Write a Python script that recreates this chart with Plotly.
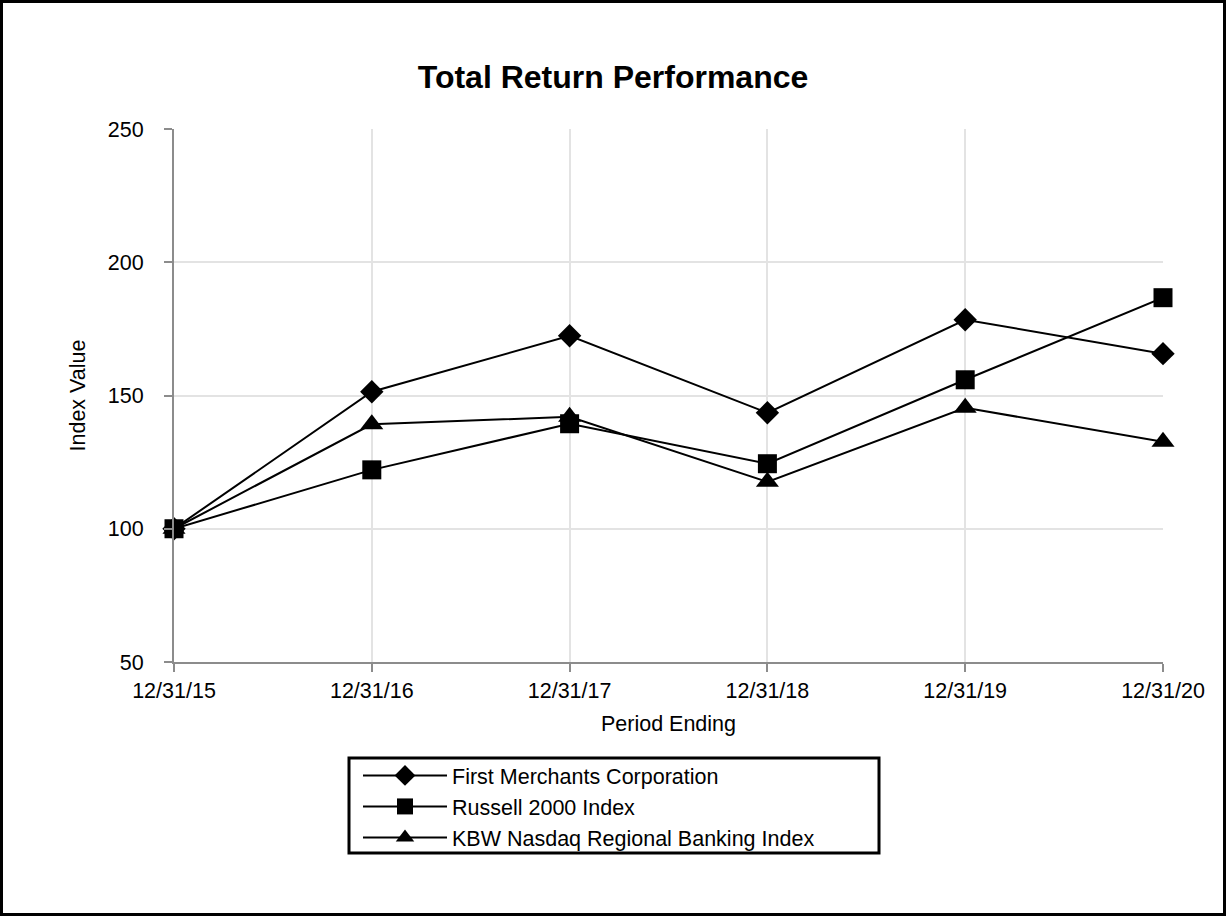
import plotly.graph_objects as go

periods = ["12/31/15", "12/31/16", "12/31/17", "12/31/18", "12/31/19", "12/31/20"]
first_merchants = [100, 151.4, 172.4, 143.5, 178.4, 165.7]
russell_2000 = [100, 122.1, 139.4, 124.4, 155.9, 186.7]
kbw_regional = [100, 139.2, 142.0, 117.6, 145.4, 132.6]
y_ticks = [50, 100, 150, 200, 250]

W, H = 1226, 916
L, R, T, B = 174, 63, 129, 254
PW, PH = W - L - R, H - T - B

def px_x(p):
    return (p - L) / PW

def px_y(p):
    return (H - B - p) / PH

xs = list(range(len(periods)))
FONT = "Liberation Sans, Arial, sans-serif"
FS = 21.5

fig = go.Figure()
series = [
    ("First Merchants Corporation", first_merchants, "diamond", 18),
    ("Russell 2000 Index", russell_2000, "square", 19),
    ("KBW Nasdaq Regional Banking Index", kbw_regional, "triangle-up", 20),
]
for name, vals, sym, sz in series:
    fig.add_trace(go.Scatter(
        x=xs, y=vals, name=name, mode="lines+markers",
        line=dict(color="black", width=2),
        marker=dict(symbol=sym, size=sz, color="black"),
        cliponaxis=False,
    ))

fig.update_layout(
    width=W, height=H,
    margin=dict(l=L, r=R, t=T, b=B, autoexpand=False),
    paper_bgcolor="white", plot_bgcolor="white",
    font=dict(family=FONT, size=FS, color="black"),
    title=dict(text="<b>Total Return Performance</b>", x=0.5, xanchor="center",
               y=1 - 77 / H, yanchor="middle", font=dict(size=32, family=FONT)),
    showlegend=True,
    legend=dict(x=px_x(358), y=px_y(755), xanchor="left", yanchor="top",
                bgcolor="rgba(0,0,0,0)", borderwidth=0, itemwidth=84,
                font=dict(size=FS, family=FONT), tracegroupgap=0,
                itemsizing="trace"),
)
fig.update_xaxes(
    range=[0, len(periods) - 1], tickvals=xs, ticktext=periods,
    showline=True, linecolor="#8c8c8c", linewidth=2,
    ticks="outside", ticklen=8, tickcolor="#8c8c8c", tickwidth=2,
    showgrid=True, gridcolor="#e3e3e3", gridwidth=1.5, zeroline=False,
    title=dict(text="Period Ending", standoff=14, font=dict(size=FS)),
    tickfont=dict(size=FS),
)
fig.update_yaxes(
    range=[50, 250], tickvals=y_ticks,
    showline=True, linecolor="#8c8c8c", linewidth=2,
    ticks="outside", ticklen=8, tickcolor="#8c8c8c", tickwidth=2,
    showgrid=True, gridcolor="#e3e3e3", gridwidth=1.5, zeroline=False,
    ticklabelstandoff=16,
    title=dict(text="Index Value", standoff=16, font=dict(size=FS)),
    tickfont=dict(size=FS),
)

# legend box
fig.add_shape(type="rect", xref="paper", yref="paper",
              x0=px_x(349), x1=px_x(879), y0=px_y(853), y1=px_y(758),
              line=dict(color="black", width=3), fillcolor="rgba(0,0,0,0)")
# outer border
fig.add_shape(type="rect", xref="paper", yref="paper",
              x0=px_x(1.5), x1=px_x(W - 1.5), y0=px_y(H - 1.5), y1=px_y(1.5),
              line=dict(color="black", width=3), fillcolor="rgba(0,0,0,0)")

fig.write_html("out.html", config={"displayModeBar": False},
               post_script="document.body.style.margin='0';document.body.style.overflow='hidden';")
